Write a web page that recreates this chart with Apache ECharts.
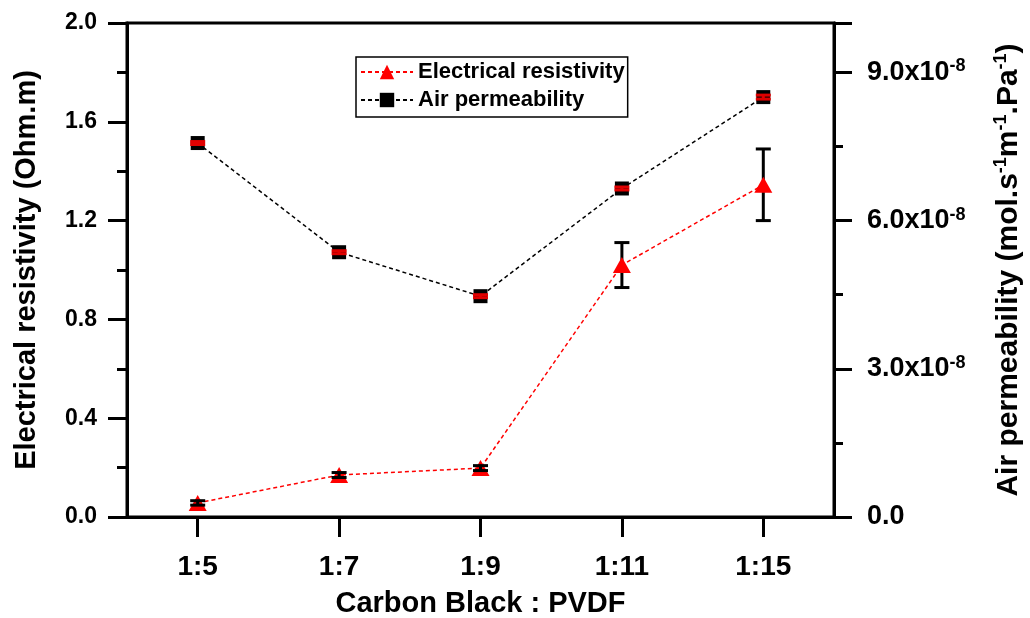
<!DOCTYPE html>
<html>
<head>
<meta charset="utf-8">
<script src="https://cdn.jsdelivr.net/npm/echarts@6/dist/echarts.min.js"></script>
<style>
  html, body { margin: 0; padding: 0; background: #fff; }
  #chart { width: 1030px; height: 618px; }
</style>
</head>
<body>
<div id="chart"></div>
<script>
// Carbon black : PVDF ratio
const categories = ['1:5', '1:7', '1:9', '1:11', '1:15'];
// Electrical resistivity (Ohm.m) and its error
const resistivity = [0.057, 0.17, 0.198, 1.02, 1.345];
const resistivityErr = [0.009, 0.01, 0.01, 0.091, 0.145];
// Air permeability (mol.s-1 m-1 Pa-1) and its error
const permeability = [7.57e-8, 5.36e-8, 4.47e-8, 6.65e-8, 8.50e-8];
const permeabilityErr = [0.03e-8, 0.03e-8, 0.03e-8, 0.03e-8, 0.04e-8];

const FONT = '"Liberation Sans", Arial, sans-serif';

function errorData(vals, errs) {
  return vals.map((v, i) => [i, v - errs[i], v + errs[i]]);
}

// error bar renderer; layer 'under' draws the stem only,
// layer 'over' draws the caps (and the stem too when the bar is short)
function errorBar(color, capW, lw, layer) {
  return function (params, api) {
    const x = api.value(0);
    const lo = api.coord([x, api.value(1)]);
    const hi = api.coord([x, api.value(2)]);
    const style = { stroke: color, lineWidth: lw };
    const stem = { type: 'line', shape: { x1: hi[0], y1: hi[1], x2: lo[0], y2: lo[1] }, style };
    if (layer === 'under') {
      return { type: 'group', children: [stem] };
    }
    const children = [
      { type: 'line', shape: { x1: hi[0] - capW / 2, y1: hi[1], x2: hi[0] + capW / 2, y2: hi[1] }, style },
      { type: 'line', shape: { x1: lo[0] - capW / 2, y1: lo[1], x2: lo[0] + capW / 2, y2: lo[1] }, style }
    ];
    if (layer === 'all' || Math.abs(lo[1] - hi[1]) < 20) {
      children.push(stem);
    }
    return { type: 'group', children };
  };
}

const chart = echarts.init(document.getElementById('chart'));

const axisLineStyle = { color: '#000', width: 3 };

chart.setOption({
  animation: false,
  backgroundColor: '#fff',
  textStyle: { fontFamily: FONT },
  grid: {
    left: 127, right: 196, top: 23, bottom: 101,
    outerBoundsMode: 'none',
    containLabel: false,
    show: true, borderColor: '#000', borderWidth: 3, backgroundColor: 'transparent'
  },
  legend: {
    orient: 'vertical',
    left: 356, top: 57,
    padding: [4, 3, 6, 4],
    itemGap: 6,
    itemWidth: 52, itemHeight: 18,
    borderColor: '#000', borderWidth: 1.5,
    textStyle: { fontFamily: FONT, fontWeight: 'bold', fontSize: 22, color: '#000' },
    data: ['Electrical resistivity', 'Air permeability']
  },
  xAxis: {
    type: 'category',
    data: categories,
    boundaryGap: true,
    axisLine: { lineStyle: axisLineStyle },
    axisTick: { show: true, alignWithLabel: true, length: 20, lineStyle: { width: 3, color: '#000' } },
    axisLabel: { color: '#000', fontWeight: 'bold', fontSize: 28, margin: 36, fontFamily: FONT },
    name: 'Carbon Black : PVDF',
    nameLocation: 'middle',
    nameGap: 72,
    nameTextStyle: { color: '#000', fontWeight: 'bold', fontSize: 29, fontFamily: FONT },
    splitLine: { show: false }
  },
  yAxis: [
    {
      type: 'value',
      position: 'left',
      min: 0, max: 2.0, interval: 0.4,
      axisLine: { show: true, lineStyle: axisLineStyle },
      axisTick: { show: true, length: 19, lineStyle: { width: 3, color: '#000' } },
      minorTick: { show: true, splitNumber: 2, length: 10, lineStyle: { width: 3, color: '#000' } },
      axisLabel: { color: '#000', fontWeight: 'bold', fontSize: 23, margin: 30, fontFamily: FONT,
        formatter: v => v.toFixed(1) },
      splitLine: { show: false },
      name: 'Electrical resistivity (Ohm.m)',
      nameLocation: 'middle',
      nameRotate: 90,
      nameGap: 86,
      nameTextStyle: { color: '#000', fontWeight: 'bold', fontSize: 29, fontFamily: FONT }
    },
    {
      type: 'value',
      position: 'right',
      min: 0, max: 1.0e-7, interval: 3.0e-8,
      axisLine: { show: true, lineStyle: axisLineStyle },
      axisTick: { show: true, length: 18, lineStyle: { width: 3, color: '#000' } },
      minorTick: { show: true, splitNumber: 2, length: 9, lineStyle: { width: 3, color: '#000' } },
      axisLabel: {
        color: '#000', margin: 33, showMaxLabel: false,
        formatter: v => v === 0 ? '{n|0.0}' : '{n|' + (v / 1e-8).toFixed(1) + 'x10}{s|-8}',
        rich: {
          n: { fontSize: 27, fontWeight: 'bold', fontFamily: FONT, color: '#000', lineHeight: 30 },
          s: { fontSize: 18, fontWeight: 'bold', fontFamily: FONT, color: '#000', verticalAlign: 'top', lineHeight: 17 }
        }
      },
      splitLine: { show: false },
      name: '{a|Air permeability (mol.s}{s|-1}{a|m}{s|-1}{a|.Pa}{s|-1}{a|)}',
      nameLocation: 'middle',
      nameRotate: 90,
      nameGap: 158,
      nameTextStyle: {
        rich: {
          a: { fontSize: 30, fontWeight: 'bold', fontFamily: FONT, color: '#000', lineHeight: 34 },
          s: { fontSize: 18, fontWeight: 'bold', fontFamily: FONT, color: '#000', verticalAlign: 'top', lineHeight: 18 }
        }
      }
    }
  ],
  series: [
    {
      name: 'Air permeability',
      type: 'line',
      yAxisIndex: 1,
      data: permeability,
      symbol: 'rect',
      symbolSize: 14,
      itemStyle: { color: '#000' },
      lineStyle: { color: '#000', width: 1.5, type: [4, 3] },
      z: 3
    },
    {
      name: 'Electrical resistivity',
      type: 'line',
      yAxisIndex: 0,
      data: resistivity,
      symbol: 'triangle',
      symbolSize: [18, 16],
      itemStyle: { color: '#ff0000' },
      lineStyle: { color: '#ff0000', width: 1.5, type: [4, 3] },
      z: 3
    },
    {
      // stems of the resistivity error bars, under the triangles
      type: 'custom',
      yAxisIndex: 0,
      data: errorData(resistivity, resistivityErr),
      renderItem: errorBar('#000', 15, 3, 'under'),
      z: 2,
      silent: true
    },
    {
      // caps of the resistivity error bars, over the triangles
      type: 'custom',
      yAxisIndex: 0,
      data: errorData(resistivity, resistivityErr),
      renderItem: errorBar('#000', 15, 3, 'over'),
      z: 4,
      silent: true
    },
    {
      type: 'custom',
      yAxisIndex: 1,
      data: errorData(permeability, permeabilityErr),
      renderItem: errorBar('#e00000', 15, 3, 'all'),
      z: 4,
      silent: true
    }
  ]
});
</script>
</body>
</html>
